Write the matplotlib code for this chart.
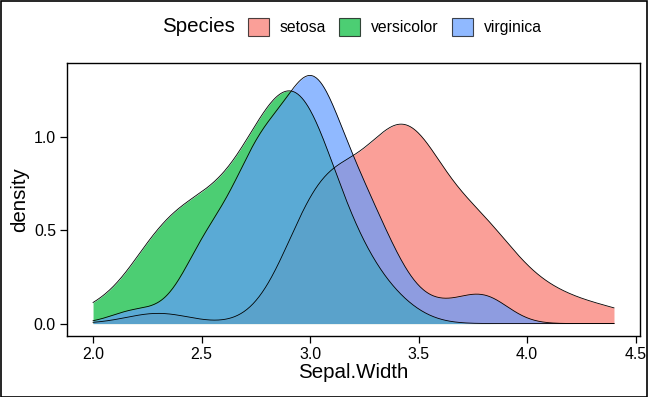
import matplotlib
matplotlib.use("Agg")
import matplotlib.pyplot as plt
import numpy as np
from matplotlib.patches import Patch, Rectangle

plt.rcParams["font.family"] = ["Liberation Sans", "DejaVu Sans"]

# iris Sepal.Width by species
species = ["setosa", "versicolor", "virginica"]
setosa = [3.5, 3.0, 3.2, 3.1, 3.6, 3.9, 3.4, 3.4, 2.9, 3.1, 3.7, 3.4, 3.0, 3.0, 4.0,
          4.4, 3.9, 3.5, 3.8, 3.8, 3.4, 3.7, 3.6, 3.3, 3.4, 3.0, 3.4, 3.5, 3.4, 3.2,
          3.1, 3.4, 4.1, 4.2, 3.1, 3.2, 3.5, 3.6, 3.0, 3.4, 3.5, 2.3, 3.2, 3.5, 3.8,
          3.0, 3.8, 3.2, 3.7, 3.3]
versicolor = [3.2, 3.2, 3.1, 2.3, 2.8, 2.8, 3.3, 2.4, 2.9, 2.7, 2.0, 3.0, 2.2, 2.9, 2.9,
              3.1, 3.0, 2.7, 2.2, 2.5, 3.2, 2.8, 2.5, 2.8, 2.9, 3.0, 2.8, 3.0, 2.9, 2.6,
              2.4, 2.4, 2.7, 2.7, 3.0, 3.4, 3.1, 2.3, 3.0, 2.5, 2.6, 3.0, 2.6, 2.3, 2.7,
              3.0, 2.9, 2.9, 2.5, 2.8]
virginica = [3.3, 2.7, 3.0, 2.9, 3.0, 3.0, 2.5, 2.9, 2.5, 3.6, 3.2, 2.7, 3.0, 2.5, 2.8,
             3.2, 3.0, 3.8, 2.6, 2.2, 3.2, 2.8, 2.8, 2.7, 3.3, 3.2, 2.8, 3.0, 2.8, 3.0,
             2.8, 3.8, 2.8, 2.8, 2.6, 3.0, 3.4, 3.1, 3.0, 3.1, 3.1, 3.1, 2.7, 3.2, 3.3,
             3.0, 2.5, 3.0, 3.4, 3.0]
colors = ["#F8766D", "#00BA38", "#619CFF"]
x_ticks = [2.0, 2.5, 3.0, 3.5, 4.0, 4.5]
y_ticks = [0.0, 0.5, 1.0]


def bw_nrd0(v):
    # R's default bandwidth rule
    v = np.asarray(v)
    sd = v.std(ddof=1)
    iqr = np.subtract(*np.percentile(v, [75, 25]))
    return 0.9 * min(sd, iqr / 1.34) * len(v) ** -0.2


def gauss_kde(v, grid):
    v = np.asarray(v)
    h = bw_nrd0(v)
    z = (grid[:, None] - v[None, :]) / h
    return np.exp(-0.5 * z ** 2).sum(axis=1) / (len(v) * h * np.sqrt(2 * np.pi))


groups = [setosa, versicolor, virginica]
lo = min(min(g) for g in groups)
hi = max(max(g) for g in groups)
grid = np.linspace(lo, hi, 512)

fig = plt.figure(figsize=(6.48, 3.97), dpi=100)
ax = fig.add_axes([0.1034, 0.1537, 0.8843, 0.6883])

for vals, col in zip(groups, colors):
    d = gauss_kde(vals, grid)
    ax.fill_between(grid, d, color=col, alpha=0.7, linewidth=0)
    ax.plot(grid, d, color="black", linewidth=0.6)

span = hi - lo
ax.set_xlim(lo - 0.05 * span, hi + 0.05 * span)
ax.set_ylim(-0.0667, 1.401)
ax.set_xticks(x_ticks)
ax.set_xticklabels([f"{t:.1f}" for t in x_ticks])
ax.set_yticks(y_ticks)
ax.set_yticklabels([f"{t:.1f}" for t in y_ticks])
ax.tick_params(direction="out", length=5, width=0.9, labelsize=11.4, colors="black", pad=3)
for s in ax.spines.values():
    s.set_linewidth(1.0)
ax.set_xlabel("Sepal.Width", fontsize=14.8, labelpad=1)
ax.set_ylabel("density", fontsize=14.8, labelpad=3)

# legend on top
handles = [Patch(facecolor=c, alpha=0.7, edgecolor="black", linewidth=0.8) for c in colors]
leg = fig.legend(handles, species, ncol=3, loc="center left", frameon=False,
                 bbox_to_anchor=(0.373, 0.932), fontsize=11.3,
                 handlelength=1.34, handleheight=1.4, handletextpad=0.7,
                 columnspacing=0.83, borderaxespad=0)
for h in leg.legend_handles:
    h.set_edgecolor("black")
fig.text(0.2495, 0.932, "Species", fontsize=14.8, va="center", ha="left")

fig.patches.append(Rectangle((0.001, 0.001), 0.998, 0.997, transform=fig.transFigure,
                             fill=False, edgecolor="black", linewidth=1.2))

fig.savefig("out.png", dpi=100)
